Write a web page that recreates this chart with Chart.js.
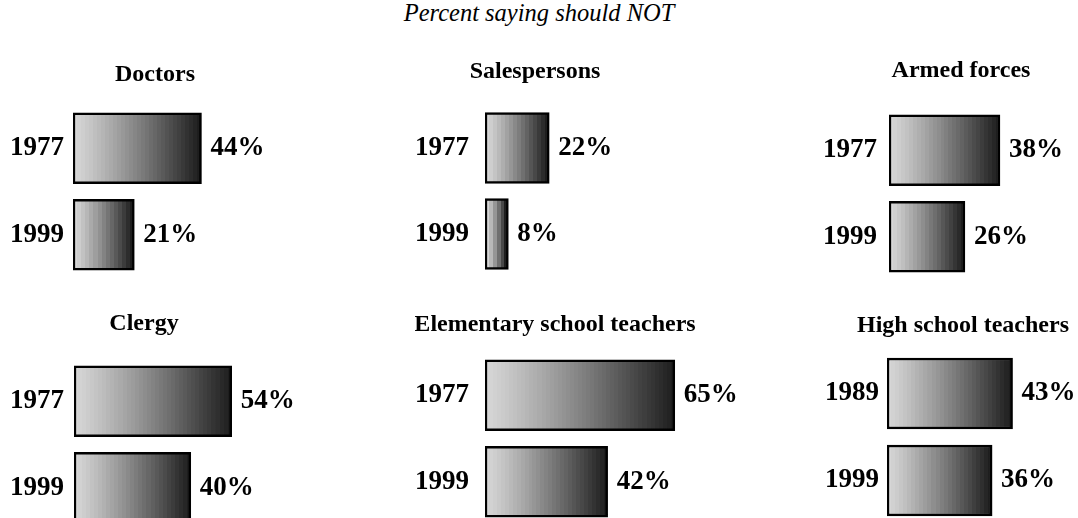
<!DOCTYPE html>
<html>
<head>
<meta charset="utf-8">
<script src="https://cdn.jsdelivr.net/npm/chart.js@4.4.1/dist/chart.umd.min.js"></script>
<style>
  body { margin: 0; background: #fff; }
  #page { position: relative; width: 1078px; height: 518px; overflow: hidden; }
  #heading {
    position: absolute; left: 0; width: 1078px; top: -1px;
    text-align: center; color: #000;
    font-family: "Liberation Serif", "Times New Roman", serif;
    font-style: italic; font-size: 24.5px;
  }
  canvas { position: absolute; }
</style>
</head>
<body>
<div id="page">
  <div id="heading">Percent saying should NOT</div>
</div>
<script>
// one small bar chart per occupation
var panelTitles = ['Doctors', 'Salespersons', 'Armed forces', 'Clergy', 'Elementary school teachers', 'High school teachers'];
var yearLabels = [
  ['1977', '1999'],
  ['1977', '1999'],
  ['1977', '1999'],
  ['1977', '1999'],
  ['1977', '1999'],
  ['1989', '1999']
];
var percentValues = [
  [44, 21],
  [22, 8],
  [38, 26],
  [54, 40],
  [65, 42],
  [43, 36]
];

// where each panel sits: year label x, bar start x, title centre x / baseline, bar centres
var panelPos = [
  { labelX: 10,  barX: 73,  titleX: 155, titleY: 81,  c1: 148,   c2: 234.5 },
  { labelX: 415, barX: 485, titleX: 535, titleY: 78,  c1: 148,   c2: 234 },
  { labelX: 823, barX: 889, titleX: 961, titleY: 77,  c1: 150.5, c2: 237 },
  { labelX: 10,  barX: 74,  titleX: 144, titleY: 330, c1: 401.5, c2: 488 },
  { labelX: 415, barX: 485, titleX: 555, titleY: 331, c1: 395,   c2: 481.5 },
  { labelX: 825, barX: 887, titleX: 963, titleY: 332, c1: 393.5, c2: 480.5 }
];

var PX_PER_PCT = 2.92;
var TOP_PAD = 110;
var serif = '"Liberation Serif", "Times New Roman", serif';

// banded light-to-dark grey fill for a bar
function barFill(ctx) {
  var chart = ctx.chart;
  var xs = chart.scales.x;
  if (!xs || !chart.chartArea) return '#999';
  var v = ctx.raw;
  var x0 = xs.getPixelForValue(0);
  var x1 = xs.getPixelForValue(v);
  var g = chart.ctx.createLinearGradient(x0, 0, x1, 0);
  var n = Math.max(4, Math.round((x1 - x0) / 4));
  for (var i = 0; i < n; i++) {
    var t = i / (n - 1);
    var c = Math.round(214 - Math.pow(t, 1.15) * 184);
    var col = 'rgb(' + c + ',' + c + ',' + c + ')';
    g.addColorStop(i / n, col);
    g.addColorStop((i + 1) / n - 0.0001, col);
  }
  return g;
}

var panelLabels = {
  id: 'panelLabels',
  afterDatasetsDraw: function (chart, args, opts) {
    var ctx = chart.ctx;
    ctx.save();
    ctx.fillStyle = '#000';
    // value labels right of the bars
    ctx.font = 'bold 27px ' + serif;
    ctx.textAlign = 'left';
    ctx.textBaseline = 'middle';
    var meta = chart.getDatasetMeta(0);
    meta.data.forEach(function (bar, i) {
      ctx.fillText(chart.data.datasets[0].data[i] + '%', bar.x + 9, bar.y);
    });
    // panel heading
    ctx.font = 'bold 24px ' + serif;
    ctx.textAlign = 'center';
    ctx.textBaseline = 'alphabetic';
    ctx.fillText(opts.title, opts.titleX, opts.titleY);
    ctx.restore();
  }
};

var page = document.getElementById('page');

panelTitles.forEach(function (title, p) {
  var pos = panelPos[p];
  var step = pos.c2 - pos.c1;
  var areaTop = pos.c1 - step / 2;
  var axisW = pos.barX - pos.labelX;
  var canvas = document.createElement('canvas');
  canvas.width = axisW + 100 * PX_PER_PCT;
  canvas.height = TOP_PAD + step * 2 + 20;
  canvas.style.left = pos.labelX + 'px';
  canvas.style.top = (areaTop - TOP_PAD) + 'px';
  page.appendChild(canvas);

  new Chart(canvas.getContext('2d'), {
    type: 'bar',
    data: {
      labels: yearLabels[p],
      datasets: [{
        data: percentValues[p],
        backgroundColor: barFill,
        borderColor: '#000',
        borderWidth: 2.5,
        borderSkipped: false,
        barThickness: 71
      }]
    },
    options: {
      indexAxis: 'y',
      responsive: false,
      animation: false,
      layout: { padding: { top: TOP_PAD, bottom: 20, left: 0, right: 0 } },
      plugins: {
        legend: { display: false },
        tooltip: { enabled: false },
        panelLabels: { title: title, titleX: pos.titleX - pos.labelX, titleY: pos.titleY - (areaTop - TOP_PAD) }
      },
      scales: {
        x: { display: false, min: 0, max: 100 },
        y: {
          grid: { display: false },
          border: { display: false },
          ticks: {
            color: '#000',
            padding: 0,
            crossAlign: 'far',
            font: { family: serif, size: 27, weight: 'bold' }
          },
          afterFit: function (scale) { scale.width = axisW; }
        }
      }
    },
    plugins: [panelLabels]
  });
});
</script>
</body>
</html>
